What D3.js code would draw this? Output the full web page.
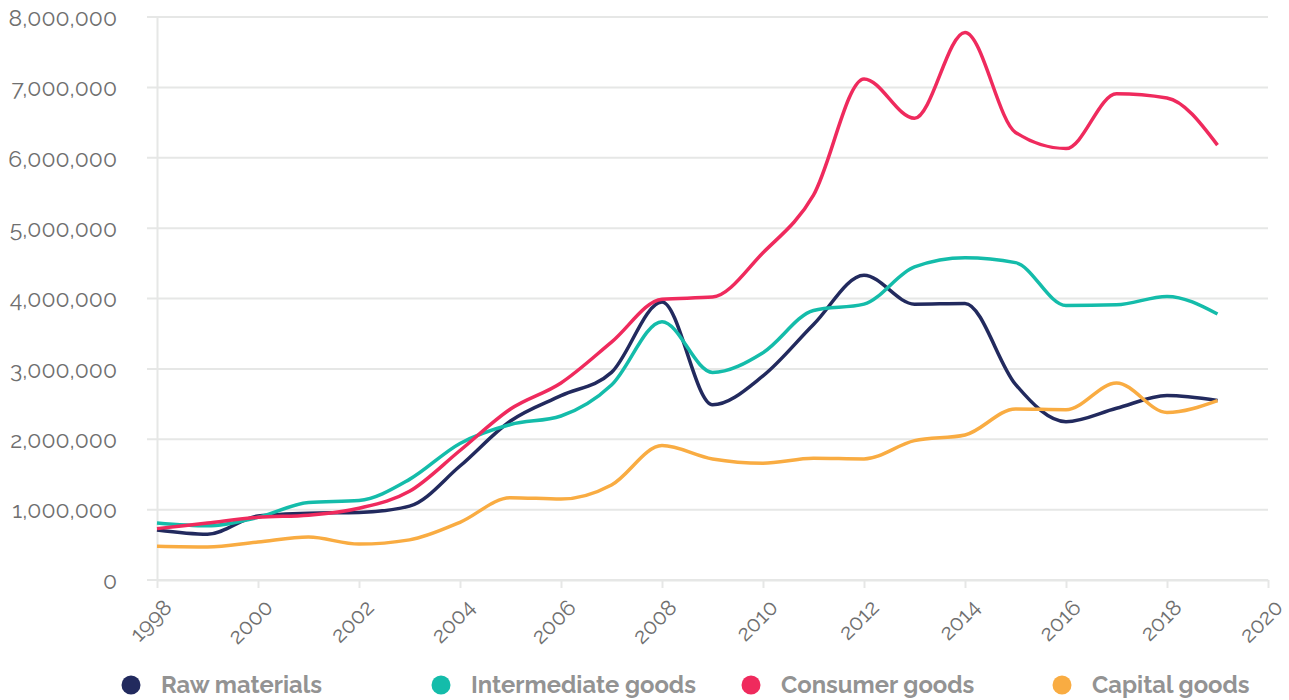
<!DOCTYPE html>
<html>
<head>
<meta charset="utf-8">
<script src="https://cdn.jsdelivr.net/npm/d3@7"></script>
<style>
  html, body { margin: 0; padding: 0; background: #fff; }
  svg { display: block; }
  .tick text { font-family: "Raleway", "Lato", "Open Sans", sans-serif; fill: #6f6f6f; }
</style>
</head>
<body>
<svg id="chart" width="1289" height="700"></svg>
<script>
// Annual values, 1998–2019
const years = [1998, 1999, 2000, 2001, 2002, 2003, 2004, 2005, 2006, 2007, 2008,
               2009, 2010, 2011, 2012, 2013, 2014, 2015, 2016, 2017, 2018, 2019];

const rawMaterials = [710000, 650000, 910000, 950000, 960000, 1050000, 1620000, 2260000, 2620000, 2950000, 3950000,
                      2490000, 2900000, 3630000, 4330000, 3920000, 3930000, 2780000, 2250000, 2440000, 2620000, 2550000];

const intermediateGoods = [810000, 770000, 890000, 1100000, 1130000, 1430000, 1940000, 2210000, 2330000, 2770000, 3670000,
                           2950000, 3230000, 3830000, 3920000, 4450000, 4580000, 4510000, 3900000, 3910000, 4030000, 3780000];

const consumerGoods = [730000, 810000, 890000, 920000, 1020000, 1260000, 1840000, 2430000, 2800000, 3380000, 3990000,
                       4020000, 4650000, 5470000, 7120000, 6560000, 7780000, 6360000, 6130000, 6910000, 6850000, 6180000];

const capitalGoods = [480000, 470000, 540000, 610000, 510000, 570000, 820000, 1170000, 1150000, 1350000, 1910000,
                      1720000, 1660000, 1730000, 1720000, 1980000, 2060000, 2430000, 2420000, 2800000, 2380000, 2550000];

const seriesNames = ["Raw materials", "Intermediate goods", "Consumer goods", "Capital goods"];
const seriesColors = ["#222a5e", "#14bcaa", "#ef2a5d", "#f9ac42"];
const seriesValues = [rawMaterials, intermediateGoods, consumerGoods, capitalGoods];

const yTicks = [0, 1000000, 2000000, 3000000, 4000000, 5000000, 6000000, 7000000, 8000000];
const xTicks = [1998, 2000, 2002, 2004, 2006, 2008, 2010, 2012, 2014, 2016, 2018, 2020];

const svg = d3.select("#chart");
const margin = { left: 157, right: 21, top: 17, bottom: 120 };
const width = 1289, height = 700;

const x = d3.scaleLinear().domain([1998, 2020]).range([margin.left, width - margin.right]);
const y = d3.scaleLinear().domain([0, 8000000]).range([height - margin.bottom, margin.top]);

const gridColor = "#e6e7e6";

// Horizontal gridlines
svg.append("g")
  .selectAll("line")
  .data(yTicks)
  .join("line")
  .attr("x1", margin.left - 10)
  .attr("x2", width - margin.right)
  .attr("y1", d => y(d))
  .attr("y2", d => y(d))
  .attr("stroke", gridColor)
  .attr("stroke-width", 2);

// Y axis
const yAxis = svg.append("g")
  .attr("transform", `translate(${margin.left},0)`)
  .call(d3.axisLeft(y).tickValues(yTicks).tickFormat(d3.format(",")).tickSize(0).tickPadding(40));
yAxis.select(".domain").attr("stroke", gridColor).attr("stroke-width", 2);
yAxis.selectAll(".tick text").attr("font-size", 23).attr("dy", "0.36em");

// X axis
const xAxis = svg.append("g")
  .attr("transform", `translate(0,${y(0)})`)
  .call(d3.axisBottom(x).tickValues(xTicks).tickFormat(d3.format("d")).tickSize(8).tickSizeOuter(0));
xAxis.select(".domain").attr("stroke", gridColor).attr("stroke-width", 2);
xAxis.selectAll(".tick line").attr("stroke", gridColor).attr("stroke-width", 2);
xAxis.selectAll(".tick text")
  .attr("font-size", 22)
  .attr("text-anchor", "end")
  .attr("dx", 0)
  .attr("dy", 0)
  .attr("transform", "translate(8,21) rotate(-45)");

// Series lines
const line = d3.line()
  .x((d, i) => x(years[i]))
  .y(d => y(d))
  .curve(d3.curveMonotoneX);

svg.append("g")
  .selectAll("path")
  .data(seriesValues)
  .join("path")
  .attr("d", d => line(d))
  .attr("fill", "none")
  .attr("stroke", (d, i) => seriesColors[i])
  .attr("stroke-width", 3.5)
  .attr("stroke-linejoin", "round");

// Legend
const legendX = [131, 441, 751, 1062];
const legend = svg.append("g")
  .selectAll("g")
  .data(seriesNames)
  .join("g")
  .attr("transform", (d, i) => `translate(${legendX[i]},685)`);
legend.append("circle")
  .attr("r", 9.5)
  .attr("fill", (d, i) => seriesColors[i]);
legend.append("text")
  .attr("x", 30)
  .attr("dy", "0.35em")
  .attr("font-family", "Raleway, Lato, 'Open Sans', sans-serif")
  .attr("font-weight", 700)
  .attr("font-size", 23.8)
  .attr("fill", "#939393")
  .text(d => d);
</script>
</body>
</html>
